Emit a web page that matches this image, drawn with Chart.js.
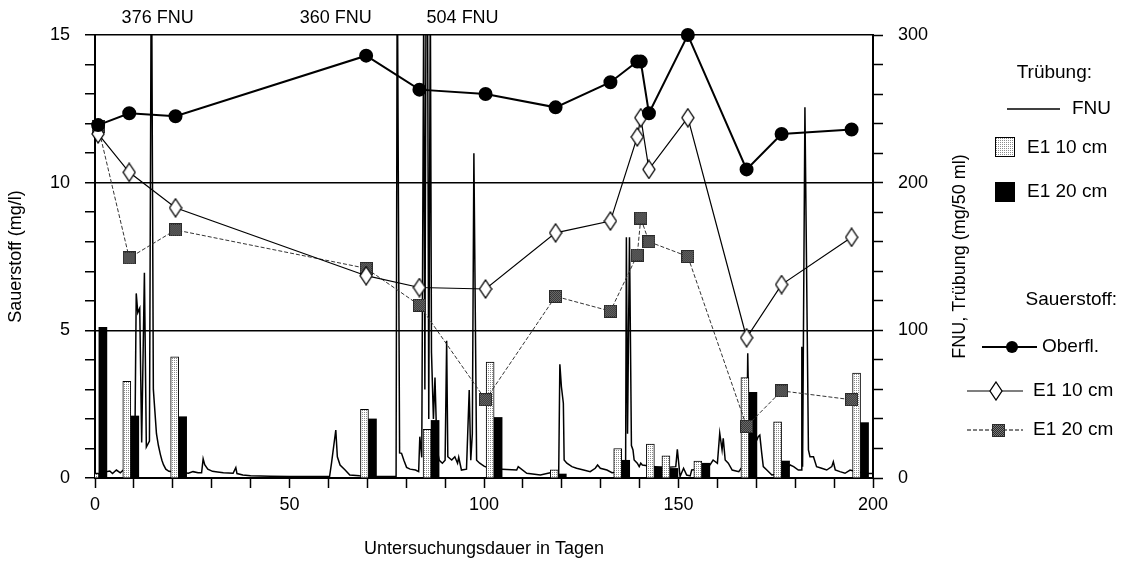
<!DOCTYPE html>
<html>
<head>
<meta charset="utf-8">
<script src="https://cdn.jsdelivr.net/npm/chart.js@4.4.0/dist/chart.umd.min.js"></script>
<style>
html, body { margin: 0; padding: 0; background: #fff; }
</style>
</head>
<body>
<canvas id="myChart" width="1134" height="567"></canvas>
<script>
/* Sauerstoff (mg/l) – Probenahmetage */
const sampleDays = [0.8, 8.8, 20.7, 69.7, 83.4, 100.4, 118.4, 132.5, 139.4, 140.3, 142.4, 152.4, 167.5, 176.5, 194.5];
const oberfl = [11.95, 12.35, 12.25, 14.3, 13.15, 13.0, 12.55, 13.4, 14.1, 14.1, 12.35, 15.0, 10.45, 11.65, 11.8];
const e1_10 = [11.65, 10.35, 9.15, 6.85, 6.45, 6.4, 8.3, 8.7, 11.55, 12.2, 10.45, 12.2, 4.75, 6.55, 8.15];
const e1_20 = [11.9, 7.45, 8.4, 7.1, 5.85, 2.65, 6.15, 5.65, 7.55, 8.8, 8.0, 7.5, 1.75, 2.95, 2.65];

/* Trübung (mg/50 ml) – Balken */
const barDays = [1.0, 9.2, 21.5, 70.3, 86.4, 102.6, 119.1, 135.4, 143.8, 147.8, 156.0, 168.1, 176.5, 196.8];
const bar10 = [3, 65.5, 82, 46.5, 33, 78.5, 5.5, 20, 23, 15, 11.5, 68, 38, 71];
const bar20 = [102, 42, 41.5, 40, 39, 41, 2.7, 12, 7.7, 6.5, 10, 58, 11.5, 37.5];

/* FNU Messreihe */
const fnuDays = [0, 1.5, 2.5, 3.8, 4.5, 5.5, 6.5, 7.3, 8.5, 10.2, 10.6, 11.0, 11.5, 12.0, 12.7, 13.2, 14.0, 14.5, 15.0, 15.4,
  15.8, 16.3, 16.8, 17.2, 17.6, 18.2, 19.0, 20.5, 23.0, 24.0, 25.2, 26.5, 27.4, 27.8, 28.2, 29.0, 30.2, 31.5, 33.0, 35.5,
  36.2, 36.5, 38, 40, 45, 50, 55, 60.3, 60.8, 61.9, 62.3, 63.0, 64.3, 65.5, 68, 72, 77.4, 77.7, 78.3, 78.8,
  79.4, 80.1, 81.0, 82.4, 83.2, 83.5, 84.0, 84.5, 84.8, 85.3, 85.8, 86.2, 86.5, 87.0, 87.4, 87.9, 88.5, 89.3, 90.0, 90.4,
  90.7, 91.7, 92.5, 93.2, 93.5, 94.2, 95.5, 96.2, 96.6, 97.0, 97.4, 98.1, 98.9, 100, 102, 104.6, 108.4, 108.8, 111, 114.5,
  117, 119.2, 119.5, 119.9, 120.4, 120.6, 121.3, 122.6, 123.8, 125.6, 127.3, 128.6, 129.2, 129.9, 131.6, 132.9, 134.5, 136.4, 136.6, 136.9,
  137.4, 137.9, 138.3, 138.6, 139.4, 139.9, 140.3, 140.7, 143, 146, 149.3, 149.7, 150.4, 151.3, 152.1, 153.0, 153.4, 155.5, 158.1, 158.9,
  160.0, 160.6, 161.2, 161.5, 162.0, 162.8, 163.8, 165.5, 166.4, 167.5, 167.8, 168.2, 170.0, 170.5, 170.9, 171.4, 171.8, 172.7, 174.0, 176.5,
  178.7, 179.6, 180.8, 181.5, 181.7, 181.9, 182.5, 183.4, 183.8, 184.7, 185.5, 186.8, 188.1, 189.4, 189.8, 190.3, 191.5, 192.8, 194.1, 196,
  199, 200];
const fnuValues = [3, 3, 4, 4.7, 3, 5.4, 3.5, 5.5, 6, 8, 125, 112, 115, 24, 139, 21, 25, 376, 60, 45,
  30, 22, 16, 12, 9, 6, 4.5, 4, 3.5, 3.2, 4.3, 3.5, 3.5, 13, 9, 6, 4.5, 4, 3.5, 3.2,
  7, 3, 2, 1.5, 1.2, 1, 1, 1, 10, 32.5, 14.4, 8.8, 5.4, 2, 1.5, 1, 1, 360, 17, 16.7,
  12, 7.2, 6, 5.4, 4.3, 28, 14, 320, 60, 504, 40, 330, 85, 40, 68, 20, 12, 10, 12, 93,
  14.4, 12.2, 14.4, 10, 14, 5.4, 6, 59.6, 12, 30, 220, 12, 10, 8, 6, 5.9, 5.4, 7.7, 3.2, 2,
  3.6, 2, 77, 61.8, 50.6, 12.2, 10, 7.7, 6.6, 5.4, 4.3, 6.6, 8.8, 6.6, 5.4, 3.6, 4, 5, 163, 30,
  163, 22, 19, 12.2, 10, 7.7, 10, 8.8, 8, 7, 7.7, 19.4, 1, 6.6, 2, 1.4, 5.4, 6, 8.8, 12.2,
  10, 30.3, 19, 26.9, 12.2, 10, 5.4, 4.3, 7.7, 6, 84.4, 20, 25, 28, 29, 16.7, 7.7, 5.4, 2, 3,
  8.8, 7.7, 5.4, 5.4, 88.9, 7.7, 251, 19, 14.4, 14.4, 7.7, 6.6, 5.4, 7.7, 11, 5.4, 4.3, 3.2, 5.4, 4,
  3, 3];

/* Spitzenwerte oberhalb der Achse */
const peakLabels = ['376 FNU', '360 FNU', '504 FNU'];
const peakLabelDays = [16.1, 61.9, 94.5];

const FONT = '"Liberation Sans", Arial, sans-serif';
Chart.defaults.font.family = FONT;
Chart.defaults.font.size = 18;
Chart.defaults.color = '#000';

function toXY(xs, ys) { return xs.map((x, i) => ({ x: x, y: ys[i] })); }

/* Marker */
function makeDiamond() {
  const c = document.createElement('canvas');
  c.width = 14; c.height = 20;
  const g = c.getContext('2d');
  g.beginPath();
  g.moveTo(7, 1); g.lineTo(13, 10); g.lineTo(7, 19); g.lineTo(1, 10); g.closePath();
  g.fillStyle = '#fff'; g.fill();
  g.lineWidth = 1.3; g.strokeStyle = '#000'; g.stroke();
  return c;
}
function makeSquare() {
  const c = document.createElement('canvas');
  c.width = 13; c.height = 13;
  const g = c.getContext('2d');
  g.fillStyle = '#2a2a2a'; g.fillRect(0, 0, 13, 13);
  g.fillStyle = '#7a7a7a';
  for (let i = 1; i < 12; i++) for (let j = 1; j < 12; j++) if ((i + j) % 2 === 0) g.fillRect(i, j, 1, 1);
  return c;
}
function makeDots() {
  const c = document.createElement('canvas');
  c.width = 2; c.height = 2;
  const g = c.getContext('2d');
  g.fillStyle = '#fff'; g.fillRect(0, 0, 2, 2);
  g.fillStyle = '#8c8c8c'; g.fillRect(0, 0, 1, 1);
  return document.createElement('canvas').getContext('2d').createPattern(c, 'repeat');
}
const diamond = makeDiamond();
const square = makeSquare();
const dots = makeDots();

/* Beschriftungen, rechte Achsentitel, Legende */
const extras = {
  id: 'extras',
  afterDraw(chart) {
    const ctx = chart.ctx, area = chart.chartArea, xs = chart.scales.x;
    ctx.save();
    ctx.fillStyle = '#000';
    ctx.font = '18px ' + FONT;
    ctx.textAlign = 'center'; ctx.textBaseline = 'middle';
    peakLabels.forEach((t, i) => ctx.fillText(t, xs.getPixelForValue(peakLabelDays[i]), area.top - 17));

    ctx.save();
    ctx.translate(960, (area.top + area.bottom) / 2);
    ctx.rotate(-Math.PI / 2);
    ctx.fillText('FNU, Trübung (mg/50 ml)', 0, 0);
    ctx.restore();

    ctx.font = '19px ' + FONT;
    ctx.textAlign = 'right';
    ctx.fillText('Trübung:', 1092, 73);
    ctx.fillText('Sauerstoff:', 1117, 300);
    ctx.textAlign = 'left';
    ctx.strokeStyle = '#000';

    ctx.lineWidth = 1.5;
    ctx.beginPath(); ctx.moveTo(1007, 109); ctx.lineTo(1060, 109); ctx.stroke();
    ctx.fillText('FNU', 1072, 109);

    ctx.fillStyle = dots; ctx.fillRect(995, 137, 20, 20);
    ctx.lineWidth = 1; ctx.strokeRect(995.5, 137.5, 19, 19);
    ctx.fillStyle = '#000';
    ctx.fillText('E1 10 cm', 1027, 148);
    ctx.fillRect(995, 182, 20, 20);
    ctx.fillText('E1 20 cm', 1027, 192);

    ctx.lineWidth = 2;
    ctx.beginPath(); ctx.moveTo(982, 347); ctx.lineTo(1037, 347); ctx.stroke();
    ctx.beginPath(); ctx.arc(1012, 347, 6, 0, Math.PI * 2); ctx.fill();
    ctx.fillText('Oberfl.', 1042, 347);

    ctx.lineWidth = 1.2;
    ctx.beginPath(); ctx.moveTo(967, 391); ctx.lineTo(1023, 391); ctx.stroke();
    ctx.drawImage(diamond, 996 - 7, 391 - 10);
    ctx.fillText('E1 10 cm', 1033, 391);

    ctx.lineWidth = 1; ctx.setLineDash([4, 2]);
    ctx.beginPath(); ctx.moveTo(967, 430); ctx.lineTo(1023, 430); ctx.stroke();
    ctx.setLineDash([]);
    ctx.drawImage(square, 998 - 6, 430 - 6);
    ctx.fillText('E1 20 cm', 1033, 430);
    ctx.restore();
  }
};

const ctx = document.getElementById('myChart');

new Chart(ctx, {
  type: 'line',
  data: {
    datasets: [{
      label: 'Oberfl.',
      data: toXY(sampleDays, oberfl),
      yAxisID: 'y',
      borderColor: '#000',
      backgroundColor: '#000',
      borderWidth: 2,
      pointRadius: 6,
      pointStyle: 'circle',
      clip: false,
      order: 0
    }, {
      label: 'E1 10 cm',
      data: toXY(sampleDays, e1_10),
      yAxisID: 'y',
      borderColor: '#000',
      borderWidth: 1.2,
      pointStyle: diamond,
      clip: false,
      order: 1
    }, {
      label: 'E1 20 cm',
      data: toXY(sampleDays, e1_20),
      yAxisID: 'y',
      borderColor: '#333',
      borderWidth: 1,
      borderDash: [4, 2],
      pointStyle: square,
      clip: false,
      order: 2
    }, {
      type: 'bar',
      label: 'E1 10 cm Trübung',
      data: toXY(barDays, bar10),
      yAxisID: 'y1',
      backgroundColor: dots,
      borderColor: '#000',
      borderWidth: 1,
      barThickness: 8,
      order: 3
    }, {
      type: 'bar',
      label: 'E1 20 cm Trübung',
      data: toXY(barDays, bar20),
      yAxisID: 'y1',
      backgroundColor: '#000',
      borderWidth: 0,
      barThickness: 8,
      order: 4
    }, {
      label: 'FNU',
      data: toXY(fnuDays, fnuValues),
      yAxisID: 'y1',
      borderColor: '#000',
      borderWidth: 1.5,
      pointRadius: 0,
      order: 5
    }]
  },
  options: {
    responsive: false,
    animation: false,
    layout: { padding: { left: 0, right: 164, top: 35, bottom: 0 } },
    plugins: { legend: { display: false }, tooltip: { enabled: false } },
    elements: { line: { tension: 0 } },
    scales: {
      x: {
        type: 'linear',
        min: 0, max: 200,
        offset: false,
        afterFit: s => { s.height = 89; },
        ticks: { stepSize: 10, autoSkip: false, maxRotation: 0, padding: 6,
          callback: v => (v % 50 === 0 ? v : '') },
        grid: { offset: false, drawOnChartArea: false, tickLength: 10, tickColor: '#000', tickWidth: 1.5 },
        border: { color: '#000', width: 2 },
        title: { display: true, text: 'Untersuchungsdauer in Tagen', padding: { top: 0, bottom: 7 } }
      },
      y: {
        position: 'left',
        min: 0, max: 15,
        afterFit: s => { s.width = 95; },
        ticks: { stepSize: 1, autoSkip: false, padding: 15,
          callback: v => (v % 5 === 0 ? v : '') },
        grid: {
          color: c => (c.tick && c.tick.value % 5 === 0 ? '#000' : 'rgba(0,0,0,0)'),
          lineWidth: 1.5, tickLength: 10, tickColor: '#000', tickWidth: 1.5
        },
        border: { color: '#000', width: 2 },
        title: { display: true, text: 'Sauerstoff (mg/l)', padding: { top: 5, bottom: 0 } }
      },
      y1: {
        position: 'right',
        min: 0, max: 300,
        afterFit: s => { s.width = 97; },
        ticks: { stepSize: 20, autoSkip: false, padding: 15,
          callback: v => (v % 100 === 0 ? v : '') },
        grid: { drawOnChartArea: false, tickLength: 10, tickColor: '#000', tickWidth: 1.5 },
        border: { color: '#000', width: 2 }
      }
    }
  },
  plugins: [extras]
});
</script>
</body>
</html>
